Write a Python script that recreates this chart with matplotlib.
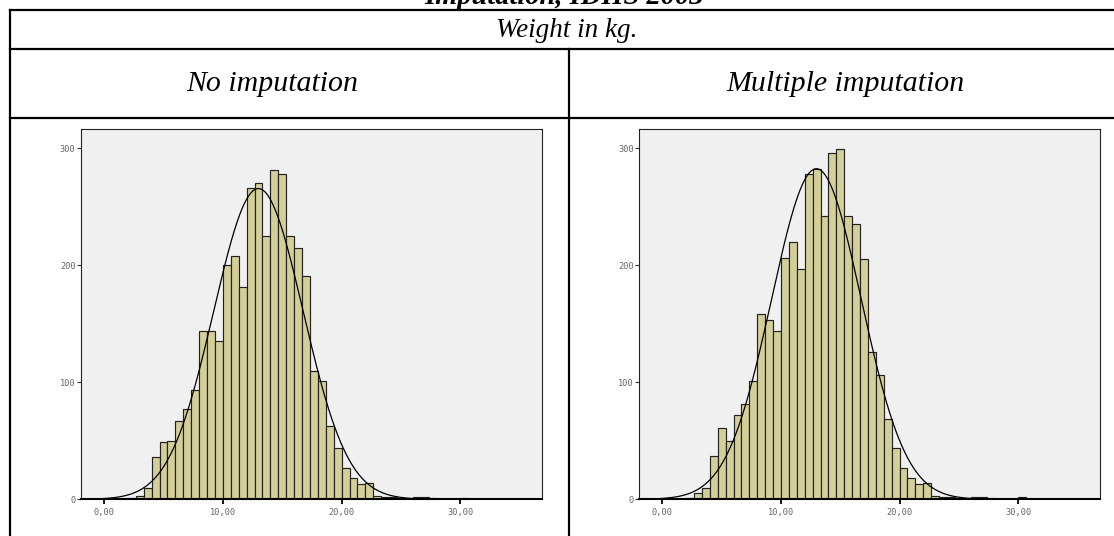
import numpy as np
import matplotlib.pyplot as plt
from matplotlib.lines import Line2D

W, H = 1114, 536

# histogram bins: width 2/3 kg, first bin starts at 2.0 kg
bin_start = 2.0
bin_width = 2 / 3
no_imp_counts = [1, 3, 10, 36, 49, 50, 67, 77, 93, 144, 144, 135, 200, 208, 181,
                 266, 270, 225, 281, 278, 225, 215, 191, 110, 101, 63, 44, 27, 18,
                 13, 14, 3, 2, 2, 1, 0, 2, 2, 1, 0, 0, 0, 1]
multi_imp_counts = [1, 5, 10, 37, 61, 50, 72, 81, 101, 158, 153, 144, 206, 220, 197,
                    278, 282, 242, 296, 299, 242, 235, 205, 126, 106, 69, 44, 27, 18,
                    13, 14, 3, 2, 2, 1, 0, 2, 2, 1, 0, 0, 0, 2]

x_ticks = [0, 10, 20, 30]
x_tick_labels = ["0,00", "10,00", "20,00", "30,00"]
y_ticks = [0, 100, 200, 300]

title = "Imputation, IDHS 2003"
row_header = "Weight in kg."
col_headers = ["No imputation", "Multiple imputation"]

bar_color = "#d4cf98"
panel_bg = "#f0f0f0"


def px(x, y):
    return x / W, 1 - y / H


fig = plt.figure(figsize=(W / 100, H / 100), dpi=100)
fig.patch.set_facecolor("white")

# table grid lines
lw_tab = 1.6
segs = [((9.5, 10), (W + 5, 10)),
        ((9.5, 48.5), (W + 5, 48.5)),
        ((9.5, 118), (W + 5, 118)),
        ((9.5, 10), (9.5, H + 5)),
        ((568.5, 48.5), (568.5, H + 5))]
for (x0, y0), (x1, y1) in segs:
    a, b = px(x0, y0)
    c, d = px(x1, y1)
    fig.add_artist(Line2D([a, c], [b, d], transform=fig.transFigure,
                          color="black", lw=lw_tab, solid_capstyle="projecting"))

serif = ["Liberation Serif", "DejaVu Serif"]
# the title sits mostly above the top edge, as in the source page
fig.text(*px(564, 3.5), title, ha="center", va="baseline", fontsize=20.5,
         family=serif, style="italic", weight="bold")
fig.text(*px(567, 37.3), row_header, ha="center", va="baseline", fontsize=19.5,
         family=serif, style="italic")
fig.text(*px(272, 90.7), col_headers[0], ha="center", va="baseline", fontsize=21.5,
         family=serif, style="italic")
fig.text(*px(845, 90.7), col_headers[1], ha="center", va="baseline", fontsize=21.5,
         family=serif, style="italic")

# axes rectangles in pixels: left, top, right, bottom
boxes = [(81, 129.3, 542.3, 499.3), (639.3, 129.3, 1100, 499.3)]

for (l, t, r, b), counts in zip(boxes, [no_imp_counts, multi_imp_counts]):
    ax = fig.add_axes([l / W, 1 - b / H, (r - l) / W, (b - t) / H])
    ax.set_facecolor(panel_bg)
    counts = np.array(counts, dtype=float)
    edges = bin_start + np.arange(len(counts)) * bin_width
    ax.bar(edges, counts, width=bin_width, align="edge", color=bar_color,
           edgecolor="#222222", linewidth=0.85, zorder=2)

    # normal curve from the binned data
    mids = edges + bin_width / 2
    n = counts.sum()
    mu = (counts * mids).sum() / n
    sd = np.sqrt((counts * (mids - mu) ** 2).sum() / n)
    xs = np.linspace(-1.95, 36.9, 600)
    ys = n * bin_width * np.exp(-0.5 * ((xs - mu) / sd) ** 2) / (sd * np.sqrt(2 * np.pi))
    ax.plot(xs, ys, color="black", lw=0.9, zorder=3)

    ax.set_xlim(-1.95, 36.9)
    ax.set_ylim(0, 316)
    ax.set_xticks(x_ticks)
    ax.set_xticklabels(x_tick_labels)
    ax.set_yticks(y_ticks)
    for lab in ax.get_xticklabels() + ax.get_yticklabels():
        lab.set_family("DejaVu Sans Mono")
        lab.set_fontsize(6.2)
        lab.set_color("#666666")
    ax.tick_params(axis="x", direction="out", length=3.4, width=1.3, pad=3.2, color="black")
    ax.tick_params(axis="y", direction="out", length=3.0, width=0.8, pad=0.8, color="#333333")
    for side in ["top", "left", "right"]:
        ax.spines[side].set_linewidth(0.8)
        ax.spines[side].set_color("#222222")
    ax.spines["bottom"].set_linewidth(1.5)
    ax.spines["bottom"].set_color("black")
    ax.spines["bottom"].set_zorder(4)

fig.savefig("out.png", dpi=100)
